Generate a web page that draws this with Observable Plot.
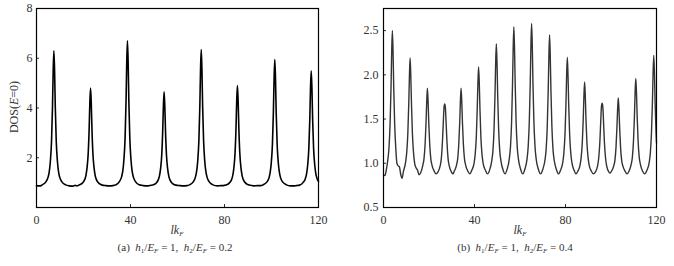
<!DOCTYPE html>
<html><head><meta charset="utf-8">
<script src="https://cdn.jsdelivr.net/npm/d3@7"></script>
<script src="https://cdn.jsdelivr.net/npm/@observablehq/plot@0.6"></script>
<style>
body{margin:0;background:#fff;font-family:"Liberation Serif","Times New Roman",serif;color:#333}
#wrap{position:relative;width:674px;height:266px;overflow:hidden}
.pan{position:absolute;top:0}
.lab{position:absolute;font-size:12px;white-space:nowrap;transform:translate(-50%,-50%);line-height:1}
.lab i{font-style:italic}
.lab sub{font-size:7px;vertical-align:-2px;line-height:0}
.ylab{position:absolute;font-size:12px;white-space:nowrap;transform:translate(-50%,-50%) rotate(-90deg);line-height:1}
.cap{font-size:11px}
</style>
</head><body>
<div id="wrap">
  <div id="pa" class="pan" style="left:0"></div>
  <div id="pb" class="pan" style="left:337px"></div>
  <div class="ylab" style="left:14px;top:107px">DOS(<i>E</i>=0)</div>
  <div class="lab" style="left:177px;top:230px"><i>lk</i><sub><i>F</i></sub></div>
  <div class="lab" style="left:520px;top:230px"><i>lk</i><sub><i>F</i></sub></div>
  <div class="lab cap" style="left:175px;top:247px">(a)&nbsp; <i>h</i><sub>1</sub>/<i>E</i><sub><i>F</i></sub> = 1,&nbsp; <i>h</i><sub>2</sub>/<i>E</i><sub><i>F</i></sub> = 0.2</div>
  <div class="lab cap" style="left:515px;top:247px">(b)&nbsp; <i>h</i><sub>1</sub>/<i>E</i><sub><i>F</i></sub> = 1,&nbsp; <i>h</i><sub>2</sub>/<i>E</i><sub><i>F</i></sub> = 0.4</div>
</div>
<script>
// x-axis ticks (shared)
const xTicks = [0, 40, 80, 120];
// panel (a) y ticks
const yTicksA = [2, 4, 6, 8];
// panel (b) y ticks
const yTicksB = [0.5, 1.0, 1.5, 2.0, 2.5];

// panel (a): DOS(E=0) vs lk_F, h2/EF = 0.2
const xA = [0,1,2,
 2.4,3.9,4.9,5.4,5.9,6.4,6.8,7.1,7.4,7.7,8.0,8.4,8.9,9.4,9.9,10.9,12.4,
 14.0,15.5,16.5,17.2,
 18.0,19.5,20.5,21.0,21.5,22.0,22.4,22.7,23.0,23.3,23.6,24.0,24.5,25.0,25.5,26.5,28.0,
 29.5,31.0,32.5,
 33.7,35.2,36.2,36.7,37.2,37.7,38.1,38.4,38.7,39.0,39.3,39.7,40.2,40.7,41.2,42.2,43.7,
 45.5,47.0,48.0,
 49.3,50.8,51.8,52.3,52.8,53.3,53.7,54.0,54.3,54.6,54.9,55.3,55.8,56.3,56.8,57.8,59.3,
 61.0,62.5,64.0,
 65.1,66.6,67.6,68.1,68.6,69.1,69.5,69.8,70.1,70.4,70.7,71.1,71.6,72.1,72.6,73.6,75.1,
 77.0,78.5,79.5,
 80.5,82.0,83.0,83.5,84.0,84.5,84.9,85.2,85.5,85.8,86.1,86.5,87.0,87.5,88.0,89.0,90.5,
 92.5,94.0,95.5,
 96.4,97.9,98.9,99.4,99.9,100.4,100.8,101.1,101.4,101.7,102.0,102.4,102.9,103.4,103.9,104.9,106.4,
 108.0,109.5,110.5,
 111.9,113.4,114.4,114.9,115.4,115.9,116.3,116.6,116.9,117.2,117.5,117.9,118.4,118.9,119.4,120];
const yA = [0.88,0.87,0.88,
 0.91,1.02,1.21,1.42,1.86,2.67,4.02,5.49,6.30,5.49,4.02,2.67,1.86,1.42,1.21,1.02,0.91,
 0.87,0.86,0.89,0.87,
 0.90,0.98,1.12,1.27,1.59,2.17,3.15,4.21,4.80,4.21,3.15,2.17,1.59,1.27,1.12,0.98,0.90,
 0.88,0.87,0.88,
 0.91,1.03,1.23,1.46,1.93,2.80,4.26,5.83,6.70,5.83,4.26,2.80,1.93,1.46,1.23,1.03,0.91,
 0.88,0.87,0.88,
 0.90,0.97,1.11,1.26,1.56,2.12,3.07,4.08,4.65,4.08,3.07,2.12,1.56,1.26,1.11,0.97,0.90,
 0.88,0.87,0.88,
 0.91,1.02,1.21,1.43,1.86,2.69,4.05,5.53,6.35,5.53,4.05,2.69,1.86,1.43,1.21,1.02,0.91,
 0.87,0.88,0.88,
 0.90,0.98,1.12,1.28,1.60,2.21,3.21,4.30,4.90,4.30,3.21,2.21,1.60,1.28,1.12,0.98,0.90,
 0.87,0.88,0.88,
 0.91,1.01,1.18,1.39,1.79,2.55,3.82,5.19,5.95,5.19,3.82,2.55,1.79,1.39,1.18,1.01,0.91,
 0.87,0.87,0.88,
 0.90,1.00,1.16,1.34,1.71,2.40,3.56,4.81,5.50,4.81,3.56,2.40,1.71,1.34,1.16,1.05];

// panel (b): DOS(E=0) vs lk_F, h2/EF = 0.4
const xB = [0,0.6,1.2,
 1.9,2.4,2.9,3.3,3.6,3.9,4.2,4.5,4.9,5.4,
 5.9,6.5,7.0,7.6,8.2,
 8.7,9.7,10.2,10.7,11.1,11.4,11.7,12.0,12.3,12.7,13.2,
 13.7,14.3,15.0,15.6,
 16.3,17.3,17.8,18.3,18.7,19.0,19.3,19.6,19.9,20.3,20.8,21.3,22.3,
 23.1,
 23.9,24.9,25.4,25.9,26.3,26.6,26.9,27.2,27.5,27.9,28.4,28.9,29.9,
 30.5,
 31.1,32.1,32.6,33.1,33.5,33.8,34.1,34.4,34.7,35.1,35.6,36.1,37.1,
 38.0,
 38.8,39.8,40.3,40.8,41.2,41.5,41.8,42.1,42.4,42.8,43.3,43.8,44.8,
 45.7,
 46.6,47.6,48.1,48.6,49.0,49.3,49.6,49.9,50.2,50.6,51.1,51.6,52.6,
 53.45,
 54.3,55.3,55.8,56.3,56.7,57.0,57.3,57.6,57.9,58.3,58.8,59.3,60.3,
 61.2,
 62.1,63.1,63.6,64.1,64.5,64.8,65.1,65.4,65.7,66.1,66.6,67.1,68.1,
 69.05,
 70.0,71.0,71.5,72.0,72.4,72.7,73.0,73.3,73.6,74.0,74.5,75.0,76.0,
 76.9,
 77.8,78.8,79.3,79.8,80.2,80.5,80.8,81.1,81.4,81.8,82.3,82.8,83.8,
 84.6,
 85.4,86.4,86.9,87.4,87.8,88.1,88.4,88.7,89.0,89.4,89.9,90.4,91.4,
 92.25,
 93.1,94.1,94.6,95.1,95.5,95.8,96.1,96.4,96.7,97.1,97.6,98.1,99.1,
 99.65,
 100.2,101.2,101.7,102.2,102.6,102.9,103.2,103.5,103.8,104.2,104.7,105.2,106.2,
 107.05,
 107.9,108.9,109.4,109.9,110.3,110.6,110.9,111.2,111.5,111.9,112.4,112.9,113.9,
 114.85,
 115.8,116.8,117.3,117.8,118.2,118.5,118.8,119.1,119.4,119.8,120];
const yB = [0.87,0.86,0.92,
 1.04,1.17,1.45,1.85,2.26,2.50,2.26,1.85,1.45,1.17,
 1.00,0.97,0.96,0.87,0.83,
 0.90,1.01,1.12,1.34,1.67,1.99,2.19,1.99,1.67,1.34,1.12,
 1.00,0.95,0.92,0.87,
 0.89,0.98,1.05,1.22,1.46,1.70,1.85,1.70,1.46,1.22,1.05,0.98,0.91,
 0.88,
 0.90,0.97,1.05,1.24,1.47,1.63,1.67,1.63,1.47,1.24,1.05,0.97,0.90,
 0.88,
 0.91,0.98,1.05,1.22,1.46,1.70,1.85,1.70,1.46,1.22,1.05,0.98,0.91,
 0.88,
 0.92,1.00,1.10,1.30,1.61,1.91,2.09,1.91,1.61,1.30,1.10,1.00,0.92,
 0.88,
 0.92,1.03,1.14,1.39,1.76,2.13,2.35,2.13,1.76,1.39,1.14,1.03,0.92,
 0.88,
 0.93,1.05,1.18,1.46,1.88,2.29,2.54,2.29,1.88,1.46,1.18,1.05,0.93,
 0.88,
 0.93,1.05,1.19,1.48,1.90,2.33,2.58,2.33,1.90,1.48,1.19,1.05,0.93,
 0.88,
 0.93,1.04,1.16,1.43,1.82,2.21,2.45,2.21,1.82,1.43,1.16,1.04,0.93,
 0.88,
 0.92,1.01,1.12,1.34,1.67,2.00,2.20,2.00,1.67,1.34,1.12,1.01,0.92,
 0.88,
 0.91,0.98,1.07,1.24,1.50,1.76,1.92,1.76,1.50,1.24,1.07,0.98,0.91,
 0.88,
 0.90,0.97,1.06,1.24,1.48,1.64,1.68,1.64,1.48,1.24,1.06,0.97,0.90,
 0.89,
 0.91,0.97,1.03,1.18,1.40,1.61,1.74,1.61,1.40,1.18,1.03,0.97,0.91,
 0.88,
 0.91,0.99,1.07,1.26,1.53,1.80,1.96,1.80,1.53,1.26,1.07,0.99,0.91,
 0.88,
 0.92,1.01,1.12,1.35,1.68,2.02,2.22,2.02,1.68,1.35,1.23];

const dataA = xA.map((x, i) => ({x, y: yA[i]}));
const dataB = xB.map((x, i) => ({x, y: yB[i]}));

const common = {
  width: 337, height: 226, marginTop: 8, marginBottom: 19,
  style: {fontFamily: '"Liberation Serif","Times New Roman",serif', fontSize: "12px", color: "#333", background: "white"}
};

const plotA = Plot.plot({
  ...common, marginLeft: 36, marginRight: 19,
  x: {domain: [0, 120]},
  y: {domain: [0, 8]},
  marks: [
    Plot.axisX({ticks: xTicks, tickSize: -3, tickPadding: 11, label: null, tickFormat: d3.format("d")}),
    Plot.axisY({ticks: yTicksA, tickSize: -3, tickPadding: 7, label: null, tickFormat: d3.format("d")}),
    Plot.line(dataA, {x: "x", y: "y", stroke: "#000", strokeWidth: 1.6, curve: "monotone-x"}),
    Plot.frame({stroke: "#000", strokeWidth: 1.2})
  ]
});
document.getElementById("pa").appendChild(plotA);

const plotB = Plot.plot({
  ...common, marginLeft: 46, marginRight: 18,
  x: {domain: [0, 120]},
  y: {domain: [0.5, 2.75]},
  marks: [
    Plot.axisX({ticks: xTicks, tickSize: -3, tickPadding: 11, label: null, tickFormat: d3.format("d")}),
    Plot.axisY({ticks: yTicksB, tickSize: -3, tickPadding: 8, label: null, tickFormat: d3.format(".1f")}),
    Plot.line(dataB, {x: "x", y: "y", stroke: "#333", strokeWidth: 1.4, curve: "monotone-x"}),
    Plot.frame({stroke: "#000", strokeWidth: 1.2})
  ]
});
document.getElementById("pb").appendChild(plotB);
</script>
</body></html>
